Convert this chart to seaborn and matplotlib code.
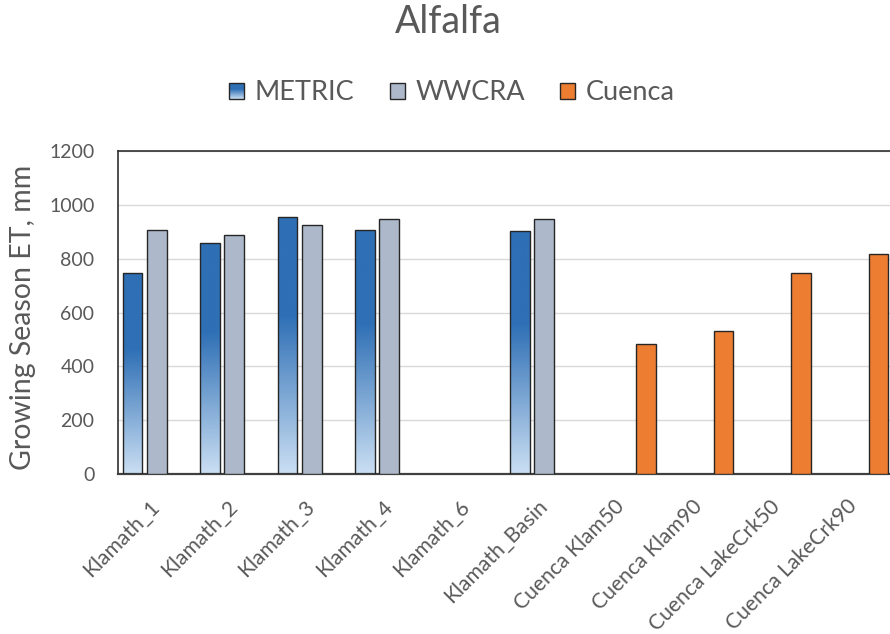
import numpy as np
import pandas as pd
import matplotlib
matplotlib.use("Agg")
import matplotlib.pyplot as plt
import seaborn as sns
from matplotlib.colors import LinearSegmentedColormap
from matplotlib.patches import Rectangle
from matplotlib.legend_handler import HandlerBase

# Growing-season ET (mm) by site and source
categories = ["Klamath_1", "Klamath_2", "Klamath_3", "Klamath_4", "Klamath_6",
              "Klamath_Basin", "Cuenca Klam50", "Cuenca Klam90",
              "Cuenca LakeCrk50", "Cuenca LakeCrk90"]
nan = np.nan
metric = [747, 858, 953, 906, nan, 901, nan, nan, nan, nan]
wwcra = [906, 888, 924, 947, nan, 947, nan, nan, nan, nan]
cuenca = [nan, nan, nan, nan, nan, nan, 484, 532, 747, 817]
series = ["METRIC", "WWCRA", "Cuenca"]
y_ticks = [0, 200, 400, 600, 800, 1000, 1200]

TEXT = "#595959"
EDGE = "#262626"
DARK_BLUE = "#2E6FB5"
LIGHT_BLUE = "#CBDFF3"
palette = {"METRIC": DARK_BLUE, "WWCRA": "#ADB9CA", "Cuenca": "#ED7D31"}
# bottom (0) light -> top dark
blue_grad = LinearSegmentedColormap.from_list(
    "metric_grad", [(0.0, LIGHT_BLUE), (0.62, DARK_BLUE), (1.0, DARK_BLUE)])

sns.set_theme(style="white")
plt.rcParams["font.family"] = ["Lato", "DejaVu Sans"]

rows = []
for name, vals in zip(series, [metric, wwcra, cuenca]):
    for cat, v in zip(categories, vals):
        if not np.isnan(v):
            rows.append({"Site": cat, "Source": name, "ET": v})
df = pd.DataFrame(rows)

fig = plt.figure(figsize=(8.9, 6.34), dpi=100)
ax = fig.add_axes([118 / 890, 160 / 634, 775 / 890, 323 / 634])

sns.barplot(data=df, x="Site", y="ET", hue="Source", order=categories,
            hue_order=series, palette=palette, saturation=1, width=0.946,
            gap=0.2, edgecolor=EDGE, linewidth=1.0, errorbar=None,
            legend=False, ax=ax)

ax.set_axisbelow(True)
ax.yaxis.grid(True, color="#D9D9D9", linewidth=1.0)
ax.xaxis.grid(False)

# Vertical gradient fill for the METRIC bars
metric_container = None
for c in ax.containers:
    if c.get_label() == "METRIC":
        metric_container = c
if metric_container is None:
    metric_container = ax.containers[0]
grad = np.linspace(0, 1, 256).reshape(-1, 1)
for p in metric_container.patches:
    h = p.get_height()
    if not np.isfinite(h) or h <= 0:
        continue
    x0 = p.get_x()
    w = p.get_width()
    p.set_facecolor("none")
    p.set_zorder(3)
    im = ax.imshow(grad, cmap=blue_grad, origin="lower", aspect="auto",
                   extent=[x0, x0 + w, 0, h], zorder=2, interpolation="bilinear")
    im.set_clip_path(p)
for c in ax.containers:
    if c is not metric_container:
        for p in c.patches:
            p.set_zorder(3)

ax.set_xlim(-0.5, len(categories) - 0.5)
ax.set_ylim(0, 1200)
ax.set_yticks(y_ticks)
ax.set_yticklabels([str(t) for t in y_ticks])
ax.tick_params(axis="y", length=0, pad=17, labelsize=14, labelcolor=TEXT)
ax.tick_params(axis="x", length=0, pad=21, labelsize=15.2, labelcolor=TEXT)
for lab in ax.get_xticklabels():
    lab.set_rotation(45)
    lab.set_ha("right")
    lab.set_va("center")
    lab.set_rotation_mode("anchor")

ax.set_xlabel("")
ax.set_ylabel("Growing Season ET, mm", fontsize=20.5, color=TEXT)
ax.yaxis.set_label_coords(-0.106, 0.485)

for side in ["left", "top"]:
    ax.spines[side].set_visible(True)
    ax.spines[side].set_color("#303030")
    ax.spines[side].set_linewidth(1.2)
ax.spines["bottom"].set_color("#404040")
ax.spines["bottom"].set_linewidth(1.6)
ax.spines["right"].set_visible(False)

fig.text(448 / 890, 1 - 22 / 634, "Alfalfa", ha="center", va="center",
         fontsize=27, color=TEXT)


class GradientHandler(HandlerBase):
    def create_artists(self, legend, orig_handle, xdescent, ydescent,
                       width, height, fontsize, trans):
        arts = []
        n = 16
        for i in range(n):
            frac = (i + 0.5) / n
            arts.append(Rectangle((-xdescent, -ydescent + i * height / n),
                                  width, height / n, facecolor=blue_grad(frac),
                                  edgecolor="none", transform=trans))
        arts.append(Rectangle((-xdescent, -ydescent), width, height,
                              facecolor="none", edgecolor=EDGE, lw=1.0,
                              transform=trans))
        return arts


h_metric = Rectangle((0, 0), 1, 1, facecolor=DARK_BLUE, edgecolor=EDGE)
h_wwcra = Rectangle((0, 0), 1, 1, facecolor=palette["WWCRA"], edgecolor=EDGE, lw=1.0)
h_cuenca = Rectangle((0, 0), 1, 1, facecolor=palette["Cuenca"], edgecolor=EDGE, lw=1.0)
leg = fig.legend([h_metric, h_wwcra, h_cuenca], series,
                 handler_map={h_metric: GradientHandler()},
                 loc="center", bbox_to_anchor=(452 / 890, 1 - 93 / 634),
                 ncol=3, frameon=False, fontsize=19.5, handlelength=0.55,
                 handleheight=0.55, handletextpad=0.4, columnspacing=1.3)
for t in leg.get_texts():
    t.set_color(TEXT)

fig.savefig("out.png", dpi=100)
